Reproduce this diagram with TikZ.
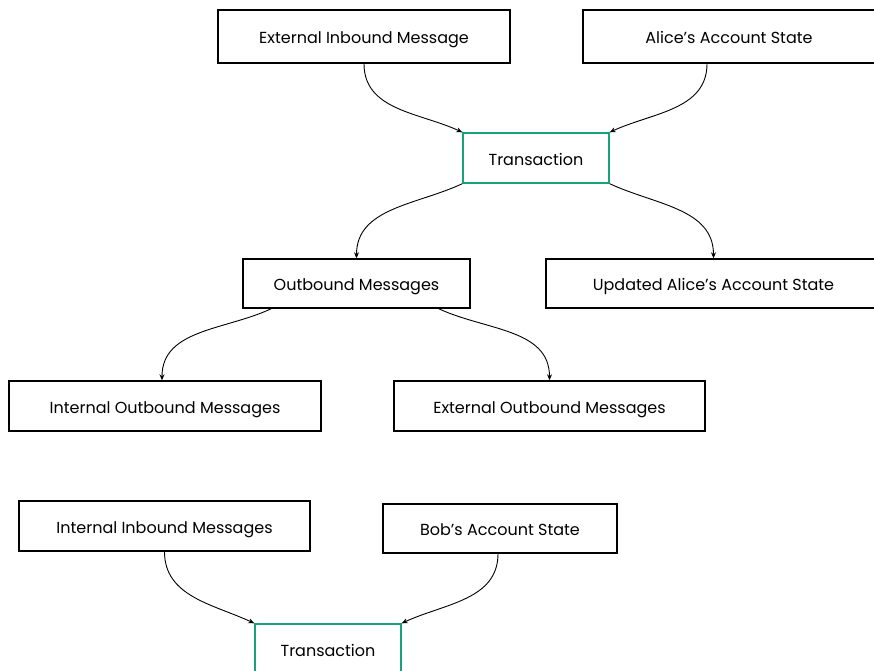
\documentclass[tikz,border=0pt]{standalone}
\usepackage{fontspec}
\setmainfont{Poppins}
\usetikzlibrary{arrows.meta}
\definecolor{txgreen}{RGB}{22,163,122}
\begin{document}
\begin{tikzpicture}[x=1pt,y=-1pt,
  box/.style={draw=black,line width=1.4pt,rectangle,inner sep=0pt,text height=14pt,text depth=0pt,font=\fontsize{16}{18}\selectfont},
  txbox/.style={box,draw=txgreen},
  conn/.style={line width=0.9pt,-{Stealth[length=6pt,width=5pt]}}]
\useasboundingbox (0,0) rectangle (874,670);
\clip (0,0) rectangle (874,670);
\node[box,minimum width=292pt,minimum height=53pt] (ext) at (364,36.5) {External Inbound Message};
\node[box,minimum width=292pt,minimum height=53pt] (alice) at (729,36.5) {Alice’s Account State};
\node[txbox,minimum width=146pt,minimum height=50pt] (tx) at (536,158) {Transaction};
\node[box,minimum width=227pt,minimum height=49pt] (out) at (356.5,283.5) {Outbound Messages};
\node[box,minimum width=335pt,minimum height=49pt] (upd) at (713.5,283.5) {Updated Alice’s Account State};
\node[box,minimum width=312pt,minimum height=50pt] (iom) at (165,406) {Internal Outbound Messages};
\node[box,minimum width=311pt,minimum height=50pt] (eom) at (549.5,406) {External Outbound Messages};
\node[box,minimum width=291pt,minimum height=50pt] (iim) at (164.5,526) {Internal Inbound Messages};
\node[box,minimum width=234pt,minimum height=49pt] (bob) at (500,528.5) {Bob’s Account State};
\node[txbox,minimum width=146pt,minimum height=50pt] (tx2) at (328,649) {Transaction};

\draw[conn] (ext.south) to[out=-90,in=155] (tx.north west);
\draw[conn] ([xshift=-22pt]alice.south) to[out=-90,in=25] (tx.north east);
\draw[conn] (tx.south west) to[out=-155,in=90] (out.north);
\draw[conn] (tx.south east) to[out=-25,in=90] (upd.north);
\draw[conn] ([xshift=29pt]out.south west) to[out=-155,in=90] ([xshift=-3pt]iom.north);
\draw[conn] ([xshift=-32pt]out.south east) to[out=-25,in=90] (eom.north);
\draw[conn] (iim.south) to[out=-90,in=155] (tx2.north west);
\draw[conn] ([xshift=-2pt]bob.south) to[out=-90,in=25] (tx2.north east);
\end{tikzpicture}
\end{document}
